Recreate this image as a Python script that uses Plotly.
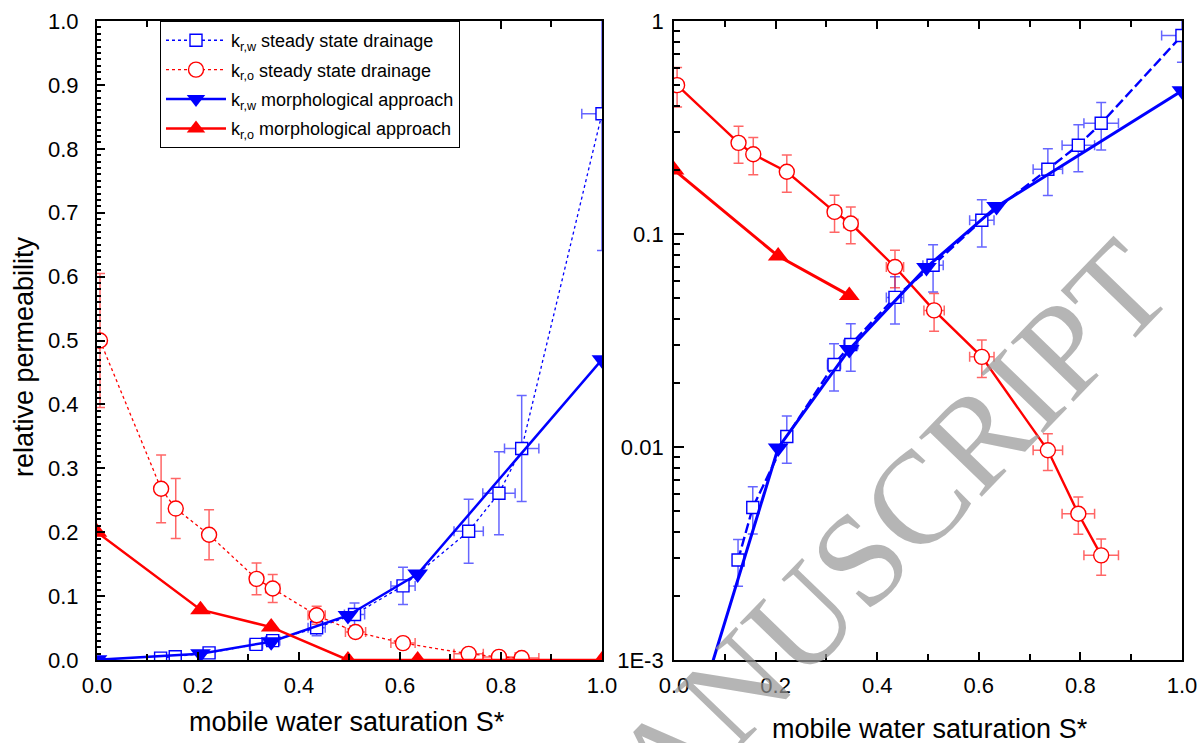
import plotly.graph_objects as go

# ---------------- data ----------------
# steady state drainage, water relative permeability k_r,w
sw_krw = [0.126, 0.155, 0.222, 0.315, 0.348, 0.435, 0.510, 0.606, 0.736, 0.796, 0.841, 1.000]
krw_ss = [0.00295, 0.0052, 0.0112, 0.0244, 0.0303, 0.0504, 0.0713, 0.116, 0.2015, 0.261, 0.331, 0.855]
krw_ss_err = [0.00073, 0.0013, 0.0028, 0.0061, 0.0076, 0.0126, 0.0178, 0.029, 0.050, 0.065, 0.083, 0.214]
sw_krw_err = [0.005, 0.006, 0.009, 0.013, 0.014, 0.017, 0.020, 0.024, 0.029, 0.032, 0.034, 0.040]

# steady state drainage, oil relative permeability k_r,o
sw_kro = [0.006, 0.127, 0.156, 0.222, 0.316, 0.348, 0.435, 0.512, 0.606, 0.736, 0.796, 0.841]
kro_ss = [0.50, 0.268, 0.237, 0.196, 0.127, 0.112, 0.070, 0.0438, 0.0265, 0.00965, 0.00486, 0.0031]
kro_ss_err = [0.105, 0.053, 0.047, 0.039, 0.025, 0.022, 0.014, 0.0088, 0.0053, 0.0019, 0.00097, 0.0006]
sw_kro_err = [0.0003, 0.005, 0.006, 0.009, 0.013, 0.014, 0.017, 0.020, 0.024, 0.029, 0.032, 0.034]

# morphological approach
sw_morph = [0.0, 0.205, 0.345, 0.497, 0.635, 1.0]
krw_morph = [0.00025, 0.0099, 0.0287, 0.0697, 0.1345, 0.47]
kro_morph = [0.20, 0.0788, 0.0515, 0.0, 0.0, 0.0]

# axis tick labels
x_ticks = [0.0, 0.2, 0.4, 0.6, 0.8, 1.0]
log_tickvals = [0.001, 0.01, 0.1, 1]
log_ticktext = ["1E-3", "0.01", "0.1", "1"]

# ---------------- styling ----------------
BLUE = "#0000ff"
RED = "#ff0000"
EB_BLUE = "rgba(0,0,255,0.6)"
EB_RED = "rgba(255,0,0,0.6)"
FONT = "Arial, 'Liberation Sans', sans-serif"

names = [
    "k<sub>r,w</sub> steady state drainage",
    "k<sub>r,o</sub> steady state drainage",
    "k<sub>r,w</sub> morphological approach",
    "k<sub>r,o</sub> morphological approach",
]

fig = go.Figure()

for panel in (1, 2):
    xa = "x" if panel == 1 else "x2"
    ya = "y" if panel == 1 else "y2"
    left = panel == 1
    ss_w = 1.3 if left else 2.4
    # zero values cannot be drawn on the log panel -> leave them out (gap)
    kro_m = kro_morph if left else [v if v > 0 else None for v in kro_morph]
    fig.add_trace(go.Scatter(
        x=sw_krw, y=krw_ss, xaxis=xa, yaxis=ya, name=names[0], showlegend=left,
        legendgroup="g0", mode="lines+markers",
        line=dict(color=BLUE, width=ss_w, dash="dot" if left else "10px,4px"),
        marker=dict(symbol="square", size=12, color="white", line=dict(color=BLUE, width=1.4)),
        error_y=dict(type="data", array=krw_ss_err, color=EB_BLUE, thickness=1.5, width=5),
        error_x=dict(type="data", array=sw_krw_err, color=EB_BLUE, thickness=1.5, width=5),
    ))
    fig.add_trace(go.Scatter(
        x=sw_kro, y=kro_ss, xaxis=xa, yaxis=ya, name=names[1], showlegend=left,
        legendgroup="g1", mode="lines+markers",
        line=dict(color=RED, width=ss_w, dash="dot" if left else "solid"),
        marker=dict(symbol="circle", size=15, color="white", line=dict(color=RED, width=1.4)),
        error_y=dict(type="data", array=kro_ss_err, color=EB_RED, thickness=1.5, width=5),
        error_x=dict(type="data", array=sw_kro_err, color=EB_RED, thickness=1.5, width=5),
    ))
    fig.add_trace(go.Scatter(
        x=sw_morph, y=krw_morph, xaxis=xa, yaxis=ya, name=names[2], showlegend=left,
        legendgroup="g2", mode="lines+markers",
        line=dict(color=BLUE, width=2.5 if left else 3),
        marker=dict(symbol="triangle-down", size=18, color=BLUE),
    ))
    fig.add_trace(go.Scatter(
        x=sw_morph, y=kro_m, xaxis=xa, yaxis=ya, name=names[3], showlegend=left,
        legendgroup="g3", mode="lines+markers", connectgaps=False,
        line=dict(color=RED, width=2.5 if left else 3),
        marker=dict(symbol="triangle-up", size=18, color=RED),
    ))

tickfont = dict(family=FONT, size=22, color="black")
common_x = dict(
    range=[0, 1], tickvals=x_ticks, ticktext=["%.1f" % v for v in x_ticks],
    ticks="inside", ticklen=8, tickwidth=2, tickcolor="black",
    minor=dict(dtick=0.1, ticks="inside", ticklen=6, tickwidth=1.5, tickcolor="black"),
    showline=True, linewidth=2, linecolor="black", mirror="ticks",
    showgrid=False, zeroline=False, tickfont=tickfont, ticklabelstandoff=5,
    automargin=False,
)

minor_log = [m * 10 ** e for e in (-3, -2, -1) for m in range(2, 10)]

title_font = dict(family=FONT, size=27, color="black")

fig.update_layout(
    width=1203, height=743, autosize=False,
    margin=dict(l=0, r=0, t=0, b=0, pad=0, autoexpand=False),
    paper_bgcolor="white", plot_bgcolor="white",
    font=dict(family=FONT, color="black"),
    xaxis=dict(domain=[0.0806, 0.5004], anchor="y", **common_x),
    yaxis=dict(
        domain=[0.1117, 0.9717], anchor="x", range=[0, 1], dtick=0.1, tickformat=".1f",
        ticks="inside", ticklen=8, tickwidth=2, tickcolor="black",
        minor=dict(dtick=0.01, ticks="inside", ticklen=4, tickwidth=1.5, tickcolor="black"),
        showline=True, linewidth=2, linecolor="black", mirror=True,
        showgrid=False, zeroline=False, tickfont=tickfont, ticklabelstandoff=12,
        automargin=False,
    ),
    xaxis2=dict(domain=[0.5603, 0.9825], anchor="y2", **common_x),
    yaxis2=dict(
        domain=[0.1117, 0.9717], anchor="x2", type="log", range=[-3, 0],
        tickvals=log_tickvals, ticktext=log_ticktext,
        ticks="inside", ticklen=10, tickwidth=2, tickcolor="black",
        minor=dict(tickvals=minor_log, ticks="inside", ticklen=6, tickwidth=1.5, tickcolor="black"),
        showline=True, linewidth=2, linecolor="black", mirror=True,
        showgrid=False, zeroline=False, tickfont=tickfont, ticklabelstandoff=4,
        automargin=False,
    ),
    legend=dict(
        x=0.133, y=0.9717, xanchor="left", yanchor="top",
        bgcolor="white", bordercolor="black", borderwidth=1,
        font=dict(family=FONT, size=18, color="black"),
        itemwidth=60, tracegroupgap=3, traceorder="grouped",
    ),
    annotations=[
        dict(text="relative permeability", x=0.020, y=0.5195, xref="paper", yref="paper",
             xanchor="center", yanchor="middle",
             textangle=-90, showarrow=False, font=title_font),
        dict(text="mobile water saturation S*", x=0.2885, y=0.0283, xref="paper", yref="paper",
             xanchor="center", yanchor="middle", showarrow=False, font=title_font),
        dict(text="mobile water saturation S*", x=0.773, y=0.0188, xref="paper", yref="paper",
             xanchor="center", yanchor="middle", showarrow=False, font=title_font),
        dict(text="MANUSCRIPT", x=0.706, y=0.234, xref="paper", yref="paper",
             xanchor="center", yanchor="middle",
             textangle=-46, showarrow=False,
             font=dict(family="'Liberation Serif', 'Times New Roman', serif", size=132,
                       color="rgba(150,150,150,0.7)")),
    ],
)

fig.write_html("out.html")
